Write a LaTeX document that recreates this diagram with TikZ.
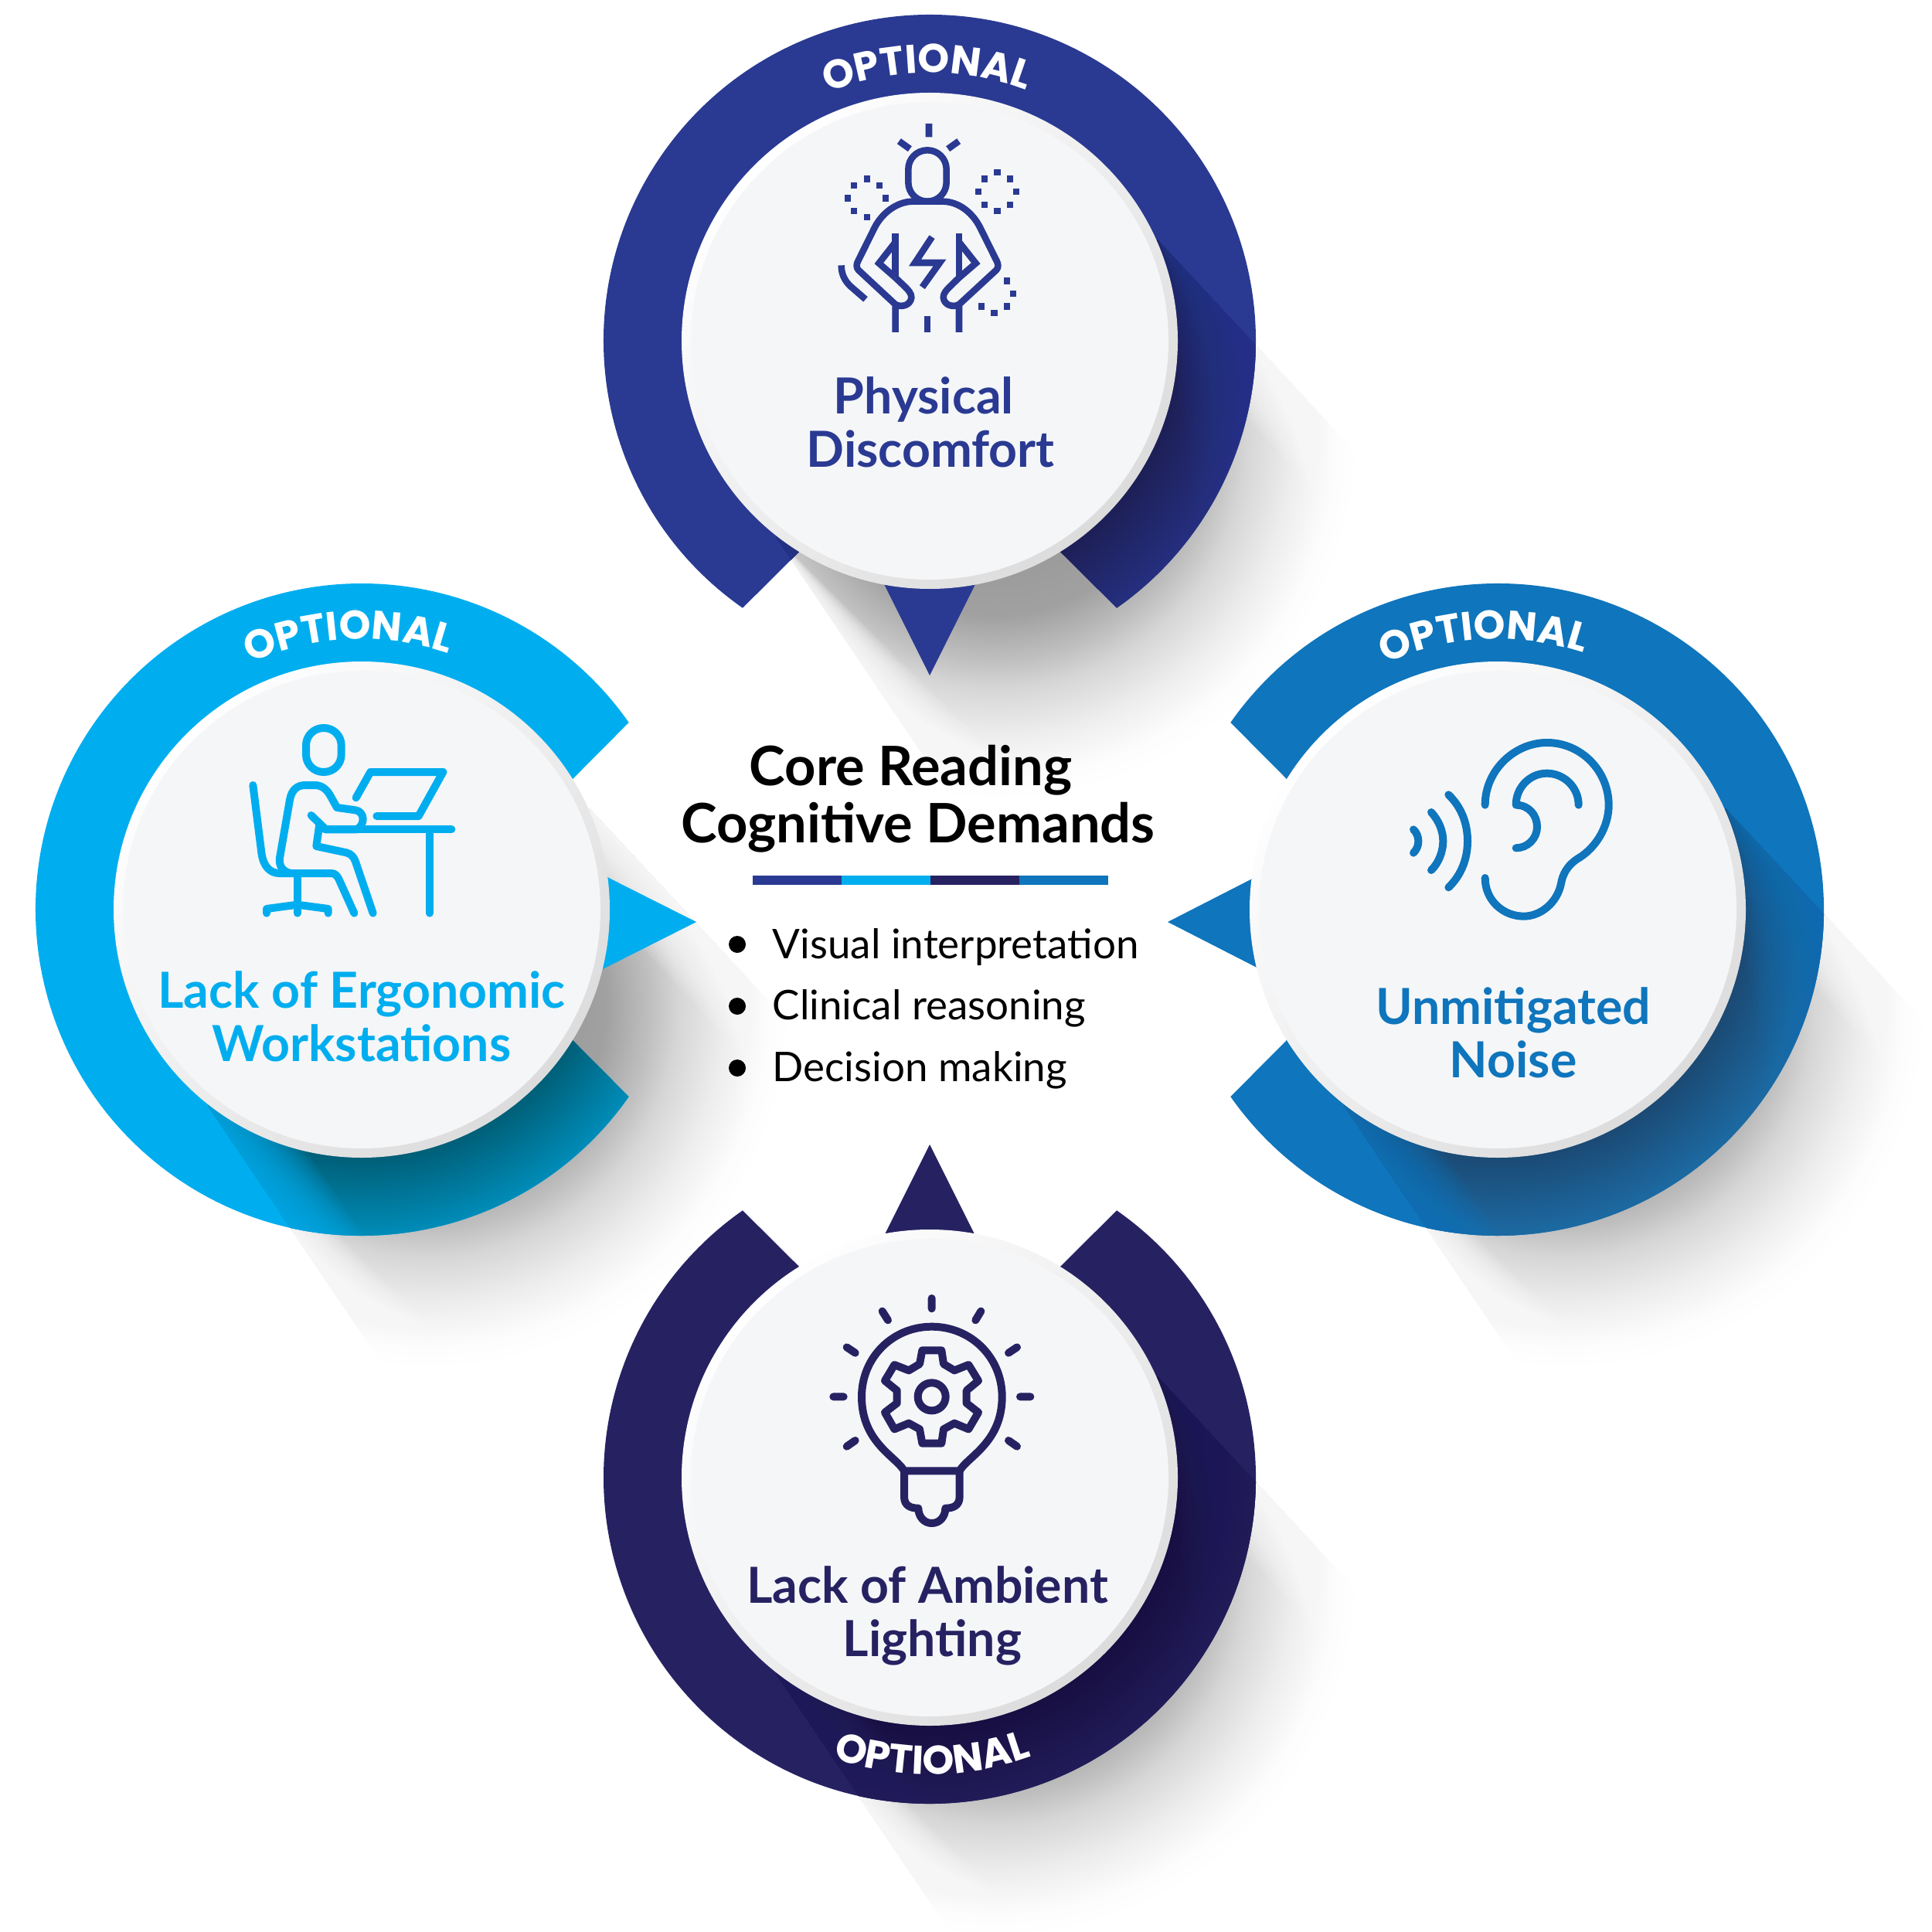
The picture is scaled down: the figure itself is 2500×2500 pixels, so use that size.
\documentclass[tikz,border=0pt]{standalone}
\usepackage{fontspec}
\setmainfont{Lato}
\newfontfamily\optfont{Poppins}
\usetikzlibrary{decorations.text}

\definecolor{cTop}{HTML}{2A3A92}\definecolor{dTop}{HTML}{1D1F56}\definecolor{oTop}{HTML}{252F7F}
\definecolor{cLeft}{HTML}{00AEEF}\definecolor{dLeft}{HTML}{005F78}\definecolor{oLeft}{HTML}{008CB8}
\definecolor{cRight}{HTML}{0F75BC}\definecolor{dRight}{HTML}{1B4A74}\definecolor{oRight}{HTML}{1C6AA3}
\definecolor{cBot}{HTML}{262262}\definecolor{dBot}{HTML}{170F42}\definecolor{oBot}{HTML}{211B58}
\definecolor{faceCol}{HTML}{F5F6F8}
\definecolor{rimCol}{HTML}{DCDCDC}

% soft shadow on the white ground, radial; 25bp = 500 image pixels
\pgfdeclareradialshading{greyrad}{\pgfpoint{0bp}{0bp}}{%
  color(0bp)=(black!45);color(11.55bp)=(black!37);color(14.4bp)=(black!25);color(16.25bp)=(black!16);
  color(19.25bp)=(black!7);color(22bp)=(black!1);color(23.5bp)=(white);color(50bp)=(white)}
% darkening inside a ring; 25bp = ring radius
\newcommand\declareRingShade[3]{%
  \pgfdeclareradialshading{#1}{\pgfpoint{0bp}{0bp}}{%
    color(0bp)=(#2);color(19bp)=(#2);color(25bp)=(#3);color(50bp)=(#3)}}
\declareRingShade{shTop}{dTop}{oTop}
\declareRingShade{shLeft}{dLeft}{oLeft}
\declareRingShade{shRight}{dRight}{oRight}
\declareRingShade{shBot}{dBot}{oBot}

\tikzset{
  labeltext/.style={font=\bfseries\fontsize{15.45}{16.5}\selectfont,align=center,inner sep=0pt},
  opttext/.style={decorate,decoration={text along path,text align=center,text color=white,
     text={|\optfont\bfseries\fontsize{12.5}{12.5}\selectfont|OPTIONAL}}},
}

\newcommand\shadowpoly[2]{(#1+295,#2-131) -- (#1+907,#2+526) -- (#1+361,#2+1084) -- (#1-199,#2+254) -- cycle}
\newcommand\ringpath[3]{([shift={(#1,#2)}]#3+35:422) arc[start angle=#3+35,end angle=#3+325,radius=422] -- ([shift={(#1,#2)}]#3:105) -- cycle}
% whole badge: cx, cy, cut direction, ring colour, ring shading
\newcommand\badge[5]{%
  \begin{scope}\clip \shadowpoly{#1}{#2};
    \shade[shading=greyrad] (#1+85,#2+125) circle[radius=500];
    \foreach \k in {1,...,16} {
      \fill[white,opacity=.1] (#1+295,#2-131) -- (#1+907,#2+526) -- (#1+907-3.3*\k,#2+526+3.1*\k) -- (#1+295-3.3*\k,#2-131+3.1*\k) -- cycle;
      \fill[white,opacity=.1] (#1-199,#2+254) -- (#1+361,#2+1084) -- (#1+361+10.3*\k,#2+1084-6.9*\k) -- cycle;
    }
  \end{scope}
  \fill[#4] \ringpath{#1}{#2}{#3};
  \begin{scope}\clip \ringpath{#1}{#2}{#3}; \clip \shadowpoly{#1}{#2};
    \shade[shading=#5] (#1,#2) circle[radius=422];
    \foreach \k in {1,...,16} {
      \fill[#4,opacity=.08] (#1+295,#2-131) -- (#1+907,#2+526) -- (#1+907-28.7*\k,#2+526+26.8*\k) -- cycle;
      \fill[#4,opacity=.1] (#1-199,#2+254) -- (#1+361,#2+1084) -- (#1+361+3.8*\k,#2+1084-2.5*\k) -- (#1-199+3.8*\k,#2+254-2.5*\k) -- cycle;
    }
  \end{scope}
}
\newcommand\face[2]{%
  \shade[top color=white,bottom color=rimCol,shading angle=45] (#1,#2) circle[radius=321];
  \fill[faceCol] (#1,#2) circle[radius=309];
}

\begin{document}
\begin{tikzpicture}[x=0.24pt,y=0.24pt,yscale=-1]
\useasboundingbox (0,0) rectangle (2500,2500);
\fill[white] (0,0) rectangle (2500,2500);

\badge{1203}{441}{90}{cTop}{shTop}
\fill[cTop] (1203,874) -- (1137,742) -- (1269,742) -- cycle;
\face{1203}{441}

\badge{468}{1177}{0}{cLeft}{shLeft}
\fill[cLeft] (901,1193) -- (770,1127) -- (770,1259) -- cycle;
\face{468}{1177}

\badge{1938}{1177}{180}{cRight}{shRight}
\fill[cRight] (1511,1193) -- (1640,1127) -- (1640,1259) -- cycle;
\face{1938}{1177}

\badge{1203}{1912}{270}{cBot}{shBot}
\fill[cBot] (1203,1481) -- (1137,1613) -- (1269,1613) -- cycle;
\face{1203}{1912}

% OPTIONAL arcs
\path[opttext] ([shift={(1203,441)}]239.4:347) arc[start angle=239.4,end angle=299.4,radius=347];
\path[opttext] ([shift={(468,1177)}]237.2:350) arc[start angle=237.2,end angle=297.2,radius=350];
\path[opttext] ([shift={(1938,1177)}]237:350) arc[start angle=237,end angle=297,radius=350];
\path[opttext] ([shift={(1203,1912)}]119.5:384) arc[start angle=119.5,end angle=59.5,radius=384];

% labels
\node[labeltext,text=cTop] (lblTop) at (1204,546) {Physical\hspace*{4.2pt}\\Discomfort};
\node[labeltext,text=cLeft] (lblLeft) at (468,1315) {Lack of Ergonomic\\Workstations};
\node[labeltext,text=cRight] (lblRight) at (1958,1336) {Unmitigated\\Noise};
\node[labeltext,text=cBot] (lblBot) at (1200,2091) {Lack of Ambient\\\hspace*{3pt}Lighting};

% centre text
\node[font=\bfseries\fontsize{16.9}{17.8}\selectfont,align=center,inner sep=0pt] (title) at (1188,1034) {Core Reading\hspace*{4.6pt}\\Cognitive Demands};
\fill[cTop] (974,1133) rectangle (1089,1145);
\fill[cLeft] (1089,1133) rectangle (1204,1145);
\fill[cBot] (1204,1133) rectangle (1319,1145);
\fill[cRight] (1319,1133) rectangle (1434,1145);
\foreach \yy in {1222,1302,1382} \fill[black] (954,\yy) circle[radius=11];
\node[font=\fontsize{12.7}{19.1}\selectfont,align=left,inner sep=0pt,anchor=west] (list) at (999,1305) {Visual interpretation\\Clinical reasoning\\Decision making};

% ---- icon: body in pain
\begin{scope}[shift={(1060,140)},x=0.08pt,y=0.08pt,cTop,line width=2.05pt,line cap=butt,miter limit=10]
\draw (426,60) -- (426,112) (310,128) -- (352,158) (542,128) -- (500,158);
\draw[line join=round,rounded corners=5.9pt] (346,163) rectangle (494,362);
\draw[line join=round] (296,870) -- (296,762) -- (152,628) .. controls (143,618) and (145,605) .. (150,595) -- (212,470) .. controls (240,410) and (300,362) .. (365,362) -- (478,362) .. controls (545,362) and (600,410) .. (628,470) -- (690,595) .. controls (695,605) and (697,618) .. (688,628) -- (543,762) -- (543,870);
\draw[line join=round] (296,762) .. controls (320,775) and (355,765) .. (358,735) .. controls (359,720) and (345,705) .. (335,695) -- (296,658);
\draw[line join=round] (543,762) .. controls (520,775) and (485,765) .. (482,735) .. controls (481,720) and (495,705) .. (505,695) -- (543,658);
\draw (296,485) -- (296,658) (543,485) -- (543,658);
\draw (296,520) -- (232,602) -- (296,658) (543,520) -- (608,602) -- (543,658);
\draw (438,500) -- (372,600) -- (468,600) -- (400,695);
\draw (420,808) -- (420,870);
\draw (86,610) .. controls (86,645) and (100,670) .. (120,690) -- (180,742);
\foreach \xx/\yy in {185/275,135/300,234/300,110/350,258/350,135/400,185/424,691/250,641/275,740/275,617/325,765/325,641/375,740/375,691/399,728/671,753/720,728/770,679/795,629/770}
  \fill (\xx-12.5,\yy-12.5) rectangle (\xx+12.5,\yy+12.5);
\end{scope}

% ---- icon: desk
\begin{scope}[shift={(250,880)},x=0.08pt,y=0.08pt,cLeft,line width=2.4pt,line cap=round,line join=round]
\draw[rounded corners=5.4pt] (438,186) rectangle (575,357);
\draw (232,408) -- (265,670) .. controls (272,725) and (300,750) .. (335,750) -- (535,750) .. controls (552,750) and (558,760) .. (565,772) -- (625,905);
\draw (380,750) .. controls (350,745) and (332,725) .. (336,690) -- (375,465) .. controls (382,425) and (405,408) .. (435,408) -- (470,408) .. controls (495,408) and (515,420) .. (530,445) -- (558,495) -- (630,505) .. controls (665,510) and (670,560) .. (635,580) -- (515,580);
\draw (510,580) -- (1003,580);
\draw (458,525) -- (515,580);
\draw (490,560) -- (478,645) -- (595,670) .. controls (615,675) and (625,690) .. (630,705) -- (698,905);
\draw (918,580) -- (918,905);
\draw (632,457) -- (688,357) -- (970,357) -- (875,528) -- (712,528);
\draw (404,750) -- (404,905);
\draw (285,905) -- (285,888) -- (404,872) -- (524,888) -- (524,905);
\end{scope}

% ---- icon: ear
\begin{scope}[shift={(1760,920)},x=0.08pt,y=0.08pt,cRight,line width=2.4pt,line cap=round,line join=round]
\draw (343,325) .. controls (395,375) and (417,440) .. (417,505) .. controls (417,570) and (395,635) .. (343,685);
\draw (276,393) .. controls (305,425) and (322,465) .. (322,505) .. controls (322,545) and (305,590) .. (276,618);
\draw (207,460) .. controls (220,472) and (226,490) .. (226,505) .. controls (226,522) and (220,538) .. (207,551);
\draw (485,365) .. controls (485,230) and (600,123) .. (725,123) .. controls (860,123) and (965,235) .. (965,365) .. controls (965,450) and (915,530) .. (850,570) .. controls (800,600) and (785,640) .. (780,670) .. controls (765,745) and (700,797) .. (635,797) .. controls (555,797) and (485,735) .. (485,648);
\draw (848,365) .. controls (848,295) and (790,242) .. (725,242) .. controls (660,242) and (605,295) .. (605,365) .. controls (655,365) and (687,405) .. (687,450) .. controls (687,495) and (650,532) .. (605,532);
\end{scope}

% ---- icon: bulb
\begin{scope}[shift={(1040,1640)},x=0.08pt,y=0.08pt,cBot,line width=2.4pt,line cap=round,line join=round]
\draw (497,120) -- (497,160) (305,170) -- (327,205) (688,170) -- (667,205) (167,310) -- (200,332) (828,310) -- (795,332) (115,502) -- (155,502) (880,502) -- (840,502) (167,695) -- (200,672) (828,695) -- (795,672);
\draw (390,790) .. controls (360,735) and (225,680) .. (225,502) .. controls (225,350) and (345,230) .. (497,230) .. controls (650,230) and (770,350) .. (770,502) .. controls (770,680) and (635,735) .. (605,790) -- cycle;
\draw (390,790) -- (390,890) .. controls (390,925) and (415,935) .. (445,935) .. controls (445,965) and (465,993) .. (497,993) .. controls (530,993) and (550,965) .. (550,935) .. controls (580,935) and (605,925) .. (605,890) -- (605,790);
\draw (497,502) circle[radius=54];
\draw (460,322) -- (535,322) -- (543,375) -- (585,400) -- (640,378) -- (678,440) -- (632,478) -- (632,527) -- (678,563) -- (640,628) -- (585,605) -- (543,628) -- (535,683) -- (460,683) -- (450,628) -- (408,605) -- (352,628) -- (315,563) -- (362,527) -- (362,478) -- (315,440) -- (352,378) -- (408,400) -- (450,375) -- cycle;
\end{scope}
\end{tikzpicture}
\end{document}
